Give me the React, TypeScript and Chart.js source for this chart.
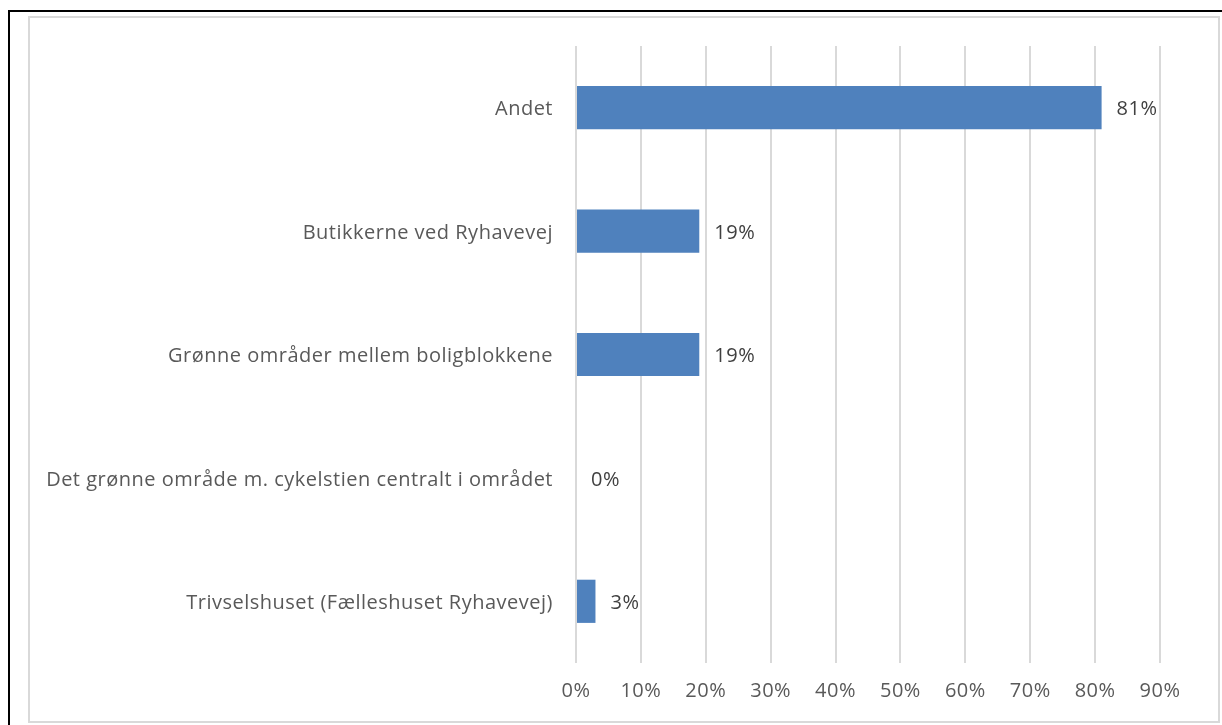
import React, { useEffect, useRef } from "react";
import { Chart, registerables } from "chart.js";

Chart.register(...registerables);

const categories = [
  "Andet",
  "Butikkerne ved Ryhavevej",
  "Grønne områder mellem boligblokkene",
  "Det grønne område m. cykelstien centralt i området",
  "Trivselshuset (Fælleshuset Ryhavevej)",
];
const values = [81, 19, 19, 0, 3];
const tickMax = 90;
const tickStep = 10;

const FONT = "'Open Sans', sans-serif";
const SIZE = 20;
const SPACING = "0.5px";

const spacingPlugin = {
  id: "spacing",
  beforeUpdate(chart: any) {
    if ("letterSpacing" in chart.ctx) chart.ctx.letterSpacing = SPACING;
  },
  beforeDraw(chart: any) {
    if ("letterSpacing" in chart.ctx) chart.ctx.letterSpacing = SPACING;
  },
};

const dataLabelPlugin = {
  id: "dataLabels",
  afterDatasetsDraw(chart: any) {
    const ctx = chart.ctx;
    const meta = chart.getDatasetMeta(0);
    ctx.save();
    ctx.font = `${SIZE}px ${FONT}`;
    ctx.fillStyle = "#404040";
    ctx.textAlign = "left";
    ctx.textBaseline = "middle";
    meta.data.forEach((el: any, i: number) => {
      ctx.fillText(values[i] + "%", el.x + 15, el.y + 2);
    });
    ctx.restore();
  },
};

export default function App() {
  const ref = useRef<HTMLCanvasElement>(null);
  useEffect(() => {
    if (!ref.current) return;
    const chart = new Chart(ref.current, {
      type: "bar",
      data: {
        labels: categories,
        datasets: [
          {
            data: values,
            backgroundColor: "#4f81bd",
            borderWidth: 0,
            barPercentage: 0.35,
            categoryPercentage: 1,
          },
        ],
      },
      options: {
        indexAxis: "y",
        animation: false,
        responsive: false,
        maintainAspectRatio: false,
        layout: { padding: { left: 0, right: 58, top: 28, bottom: 0 } },
        plugins: {
          legend: { display: false },
          tooltip: { enabled: false },
          title: { display: false },
        },
        scales: {
          x: {
            min: 0,
            max: tickMax,
            ticks: {
              stepSize: tickStep,
              callback: (v: any) => v + "%",
              color: "#595959",
              font: { family: FONT, size: SIZE },
              padding: 16,
            },
            grid: { color: "#d9d9d9", lineWidth: 2, drawTicks: false },
            border: { display: false },
            afterFit: (s: any) => {
              s.height = 58;
              s.paddingLeft = 0;
              s.paddingRight = 0;
            },
          },
          y: {
            ticks: {
              color: "#595959",
              font: { family: FONT, size: SIZE },
              padding: 23,
              labelOffset: 2,
            },
            grid: { display: false, drawTicks: false },
            border: { display: false },
            afterFit: (s: any) => {
              s.width = 546;
              s.paddingTop = 0;
              s.paddingBottom = 0;
            },
          },
        },
      },
      plugins: [spacingPlugin, dataLabelPlugin],
    });
    return () => chart.destroy();
  }, []);

  return (
    <div style={{ position: "fixed", left: 0, top: 0, width: 1222, height: 725, background: "#fff", overflow: "hidden" }}>
      <div
        style={{
          position: "absolute",
          left: 8,
          top: 10,
          width: 1240,
          height: 740,
          border: "2px solid #000",
          boxSizing: "border-box",
        }}
      />
      <div
        style={{
          position: "absolute",
          left: 28,
          top: 16,
          width: 1192,
          height: 707,
          border: "2px solid #d9d9d9",
          boxSizing: "border-box",
        }}
      />
      <canvas
        ref={ref}
        width={1188}
        height={703}
        style={{ position: "absolute", left: 30, top: 18, width: 1188, height: 703 }}
      />
    </div>
  );
}
